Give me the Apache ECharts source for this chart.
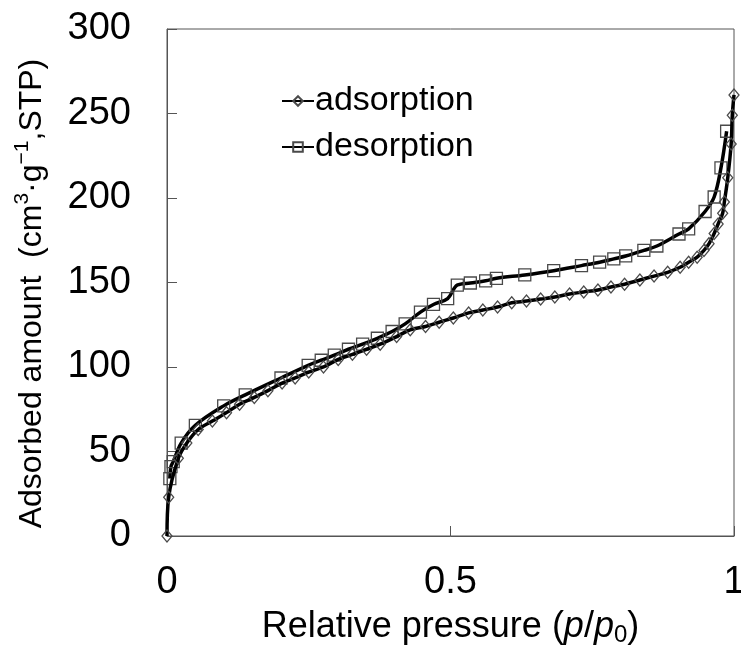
<!DOCTYPE html>
<html>
<head>
<meta charset="utf-8">
<script src="https://cdn.jsdelivr.net/npm/echarts@6/dist/echarts.min.js"></script>
<style>
  html, body { margin: 0; padding: 0; background: #fff; }
  #chart { width: 741px; height: 646px; }
</style>
</head>
<body>
<div id="chart"></div>
<script>
// Relative pressure (p/p0) and adsorbed amount for the adsorption branch
const adsorptionP = [0, 0.003, 0.02, 0.035, 0.055, 0.08, 0.105, 0.128, 0.154, 0.178, 0.203, 0.226,
  0.25, 0.276, 0.302, 0.327, 0.352, 0.376, 0.405, 0.429, 0.456, 0.48, 0.505, 0.532, 0.557, 0.583,
  0.608, 0.634, 0.659, 0.684, 0.71, 0.735, 0.76, 0.783, 0.807, 0.834, 0.859, 0.883, 0.905, 0.92,
  0.935, 0.947, 0.956, 0.965, 0.972, 0.98, 0.983, 0.989, 0.995, 0.997, 1.0];
const adsorptionV = [0, 23, 46, 55, 63, 68, 73, 78, 82, 86, 90.5, 93.5,
  97, 100, 104.5, 107.5, 110.5, 113.5, 118, 122, 124, 126.5, 129, 132, 133.7, 135.5,
  138, 139, 140.2, 141.4, 143.2, 144.4, 145.6, 147.3, 149, 151.5, 153.8, 156, 159, 162,
  165, 169, 173, 179, 184.6, 191, 197.6, 212, 232, 249, 261];

// Desorption branch
const desorptionP = [0.005, 0.007, 0.011, 0.025, 0.05, 0.1, 0.138, 0.201, 0.249, 0.272, 0.295,
  0.32, 0.345, 0.371, 0.397, 0.42, 0.447, 0.47, 0.495, 0.512, 0.535, 0.562, 0.581, 0.631, 0.682,
  0.731, 0.763, 0.788, 0.809, 0.841, 0.864, 0.903, 0.92, 0.949, 0.965, 0.977, 0.987];
const desorptionV = [34, 41, 44, 55, 65.5, 77, 83.5, 93.5, 101, 104, 107,
  110.5, 113.5, 117, 121, 125.5, 132.5, 137, 140.5, 148.5, 149.7, 151, 152.5, 154.5, 157,
  160, 162, 164, 165.7, 169, 171.6, 178.7, 181.7, 192, 200.6, 217.8, 239.5];

// Axis ticks
const xTicks = [0, 0.5, 1];
const yTicks = [0, 50, 100, 150, 200, 250, 300];

const FONT = '"Liberation Sans", Arial, sans-serif';
const AXIS_COLOR = '#555';

function pairs(xs, ys) { return xs.map((x, i) => [x, ys[i]]); }

const chart = echarts.init(document.getElementById('chart'), null, { renderer: 'canvas' });

const markerStyle = {
  color: 'rgba(0,0,0,0)',
  borderColor: '#4a4a4a',
  borderWidth: 1.3
};

chart.setOption({
  animation: false,
  backgroundColor: '#fff',
  textStyle: { fontFamily: FONT },
  grid: {
    left: 167, right: 7, top: 29, bottom: 110,
    outerBoundsMode: 'none',
    containLabel: false,
    show: true, borderColor: AXIS_COLOR, borderWidth: 1
  },
  legend: {
    orient: 'vertical',
    left: 276, top: 79,
    itemWidth: 32, itemHeight: 12, itemGap: 12,
    textStyle: { fontFamily: FONT, fontSize: 34, color: '#000', padding: [0, 0, 0, -4] },
    data: ['adsorption', 'desorption']
  },
  xAxis: {
    type: 'value',
    min: xTicks[0], max: xTicks[xTicks.length - 1], interval: xTicks[1] - xTicks[0],
    axisLine: { show: true, lineStyle: { color: AXIS_COLOR, width: 1 } },
    axisTick: { show: true, inside: true, length: 10, lineStyle: { color: AXIS_COLOR } },
    splitLine: { show: false },
    axisLabel: {
      fontFamily: FONT, fontSize: 38, color: '#000', margin: 28,
      formatter: v => String(v)
    },
    name: '{a|Relative pressure (}{i|p}{a|/}{i|p}{s|0}{a|)}',
    nameLocation: 'middle',
    nameGap: 71,
    nameTextStyle: {
      rich: {
        a: { fontFamily: FONT, fontSize: 36, color: '#000', lineHeight: 40 },
        i: { fontFamily: FONT, fontSize: 36, fontStyle: 'italic', color: '#000', lineHeight: 40 },
        s: { fontFamily: FONT, fontSize: 24, color: '#000', lineHeight: 40, verticalAlign: 'bottom', padding: [16, 0, 0, 0] }
      }
    }
  },
  yAxis: {
    type: 'value',
    min: yTicks[0], max: yTicks[yTicks.length - 1], interval: yTicks[1] - yTicks[0],
    axisLine: { show: true, lineStyle: { color: AXIS_COLOR, width: 1 } },
    axisTick: { show: true, inside: true, length: 10, lineStyle: { color: AXIS_COLOR } },
    splitLine: { show: false },
    axisLabel: { fontFamily: FONT, fontSize: 38, color: '#000', margin: 36 },
    name: '{a|Adsorbed amount  (cm}{u|3}{a|·g}{u|−1}{a|,STP)}',
    nameLocation: 'middle',
    nameRotate: 90,
    nameGap: 115,
    nameTextStyle: {
      padding: [0, 22, 0, 0],
      rich: {
        a: { fontFamily: FONT, fontSize: 32, color: '#000', lineHeight: 40 },
        u: { fontFamily: FONT, fontSize: 21, color: '#000', lineHeight: 40, verticalAlign: 'top', padding: [0, 0, 16, 0] }
      }
    }
  },
  series: [
    {
      name: 'adsorption',
      type: 'line',
      data: pairs(adsorptionP, adsorptionV),
      smooth: 0.35,
      symbol: 'diamond',
      symbolSize: [10, 12],
      itemStyle: markerStyle,
      lineStyle: { color: '#000', width: 3.5 },
      z: 3
    },
    {
      name: 'desorption',
      type: 'line',
      data: pairs(desorptionP, desorptionV),
      smooth: 0.35,
      symbol: 'rect',
      symbolSize: 12,
      itemStyle: markerStyle,
      lineStyle: { color: '#000', width: 3.5 },
      z: 2
    }
  ]
});
</script>
</body>
</html>
